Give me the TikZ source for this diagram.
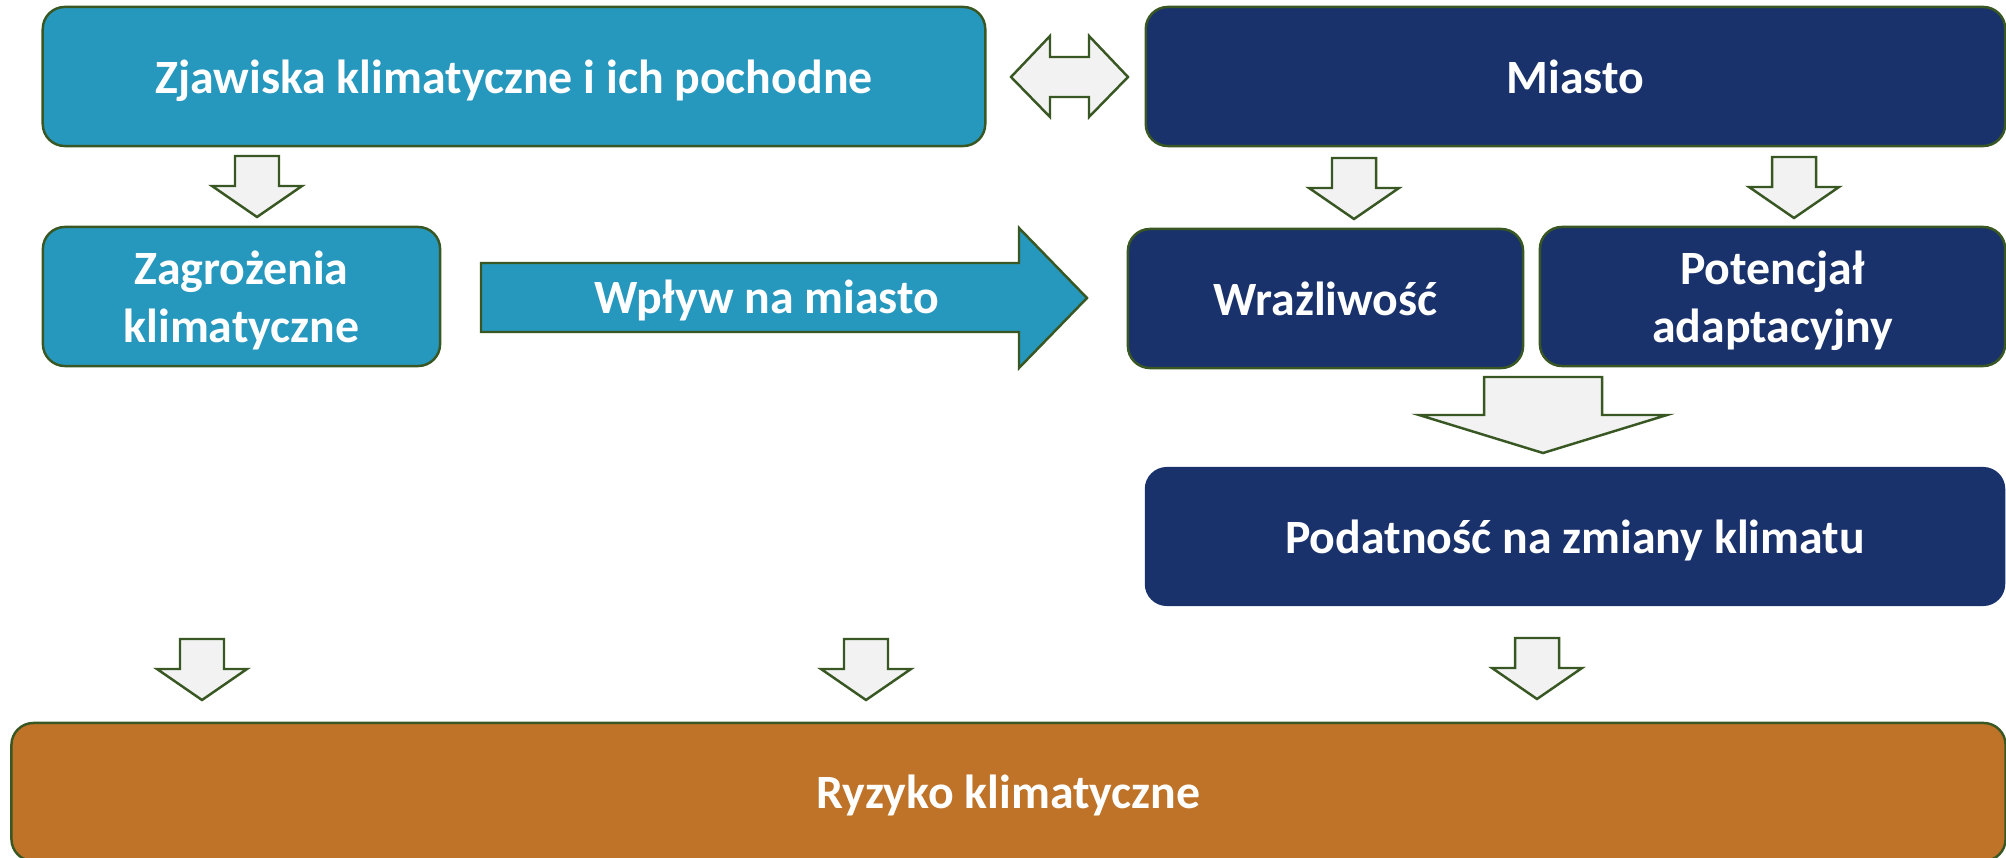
\documentclass[tikz,border=0pt]{standalone}
\usepackage{fontspec}
\setmainfont{Carlito}
\definecolor{zjblue}{HTML}{2697BD}
\definecolor{citynavy}{HTML}{1A326C}
\definecolor{riskorange}{HTML}{BE7328}
\definecolor{edgegreen}{HTML}{385723}
\definecolor{arrfill}{HTML}{F2F2F2}
\tikzset{
  box/.style={draw=edgegreen, line width=0.7pt, rounded corners=0.22cm, inner sep=0pt,
    align=center, text=white, text depth=0pt, font=\bfseries\fontsize{13.6}{16.5}\selectfont},
  climbox/.style={box, fill=zjblue},
  citybox/.style={box, fill=citynavy},
  riskbox/.style={box, fill=riskorange},
  blockarr/.style={draw=edgegreen, line width=0.7pt, fill=arrfill, line join=miter},
  pics/downarr/.style={code={
    \draw[blockarr] (-22,0) -- (22,0) -- (22,30) -- (45,30) -- (0,61) -- (-45,30) -- (-22,30) -- cycle;
  }}
}
\begin{document}
\begin{tikzpicture}[x=0.01cm,y=-0.01cm]
\useasboundingbox (0,0) rectangle (2006,858);

% top row
\node[climbox, minimum width=9.42cm, minimum height=1.39cm] (zjaw) at (514,76.5) {Zjawiska klimatyczne i ich pochodne};
\node[citybox, minimum width=8.59cm, minimum height=1.39cm] (miasto) at (1575.5,76.5) {Miasto};
% double arrow between them
\draw[blockarr] (1011,77) -- (1050,36) -- (1050,57) -- (1089,57) -- (1089,36) -- (1128,77)
  -- (1089,117) -- (1089,97) -- (1050,97) -- (1050,117) -- cycle;

% second row
\node[climbox, minimum width=3.97cm, minimum height=1.39cm] (zagr) at (241.5,296.5) {Zagrożenia\\klimatyczne};
\node[citybox, minimum width=3.95cm, minimum height=1.39cm] (wraz) at (1325.5,298.5) {Wrażliwość};
\node[citybox, minimum width=4.65cm, minimum height=1.39cm] (poten) at (1772.5,296.5) {Potencjał\\adaptacyjny};

% impact arrow
\draw[blockarr, fill=zjblue] (481,263) -- (1019,263) -- (1019,228) -- (1087,298)
  -- (1019,368) -- (1019,332) -- (481,332) -- cycle;
\node[text=white, text depth=0pt, font=\bfseries\fontsize{13.6}{16.5}\selectfont] (wplyw) at (767,297) {Wpływ na miasto};

% big arrow to vulnerability
\draw[blockarr] (1484,377) -- (1602,377) -- (1602,415) -- (1667,415) -- (1543,453)
  -- (1419,415) -- (1484,415) -- cycle;
\node[citybox, draw=none, minimum width=8.6cm, minimum height=1.39cm] (podat) at (1575,536.5) {Podatność na zmiany klimatu};

% risk
\node[riskbox, minimum width=19.93cm, minimum height=1.38cm] (ryzyko) at (1008.5,792) {Ryzyko klimatyczne};

% small down arrows
\foreach \x/\y in {257/156, 1354/158, 1794/157, 1537/638, 202/639, 866/639} {
  \pic at (\x,\y) {downarr};
}
\end{tikzpicture}
\end{document}
